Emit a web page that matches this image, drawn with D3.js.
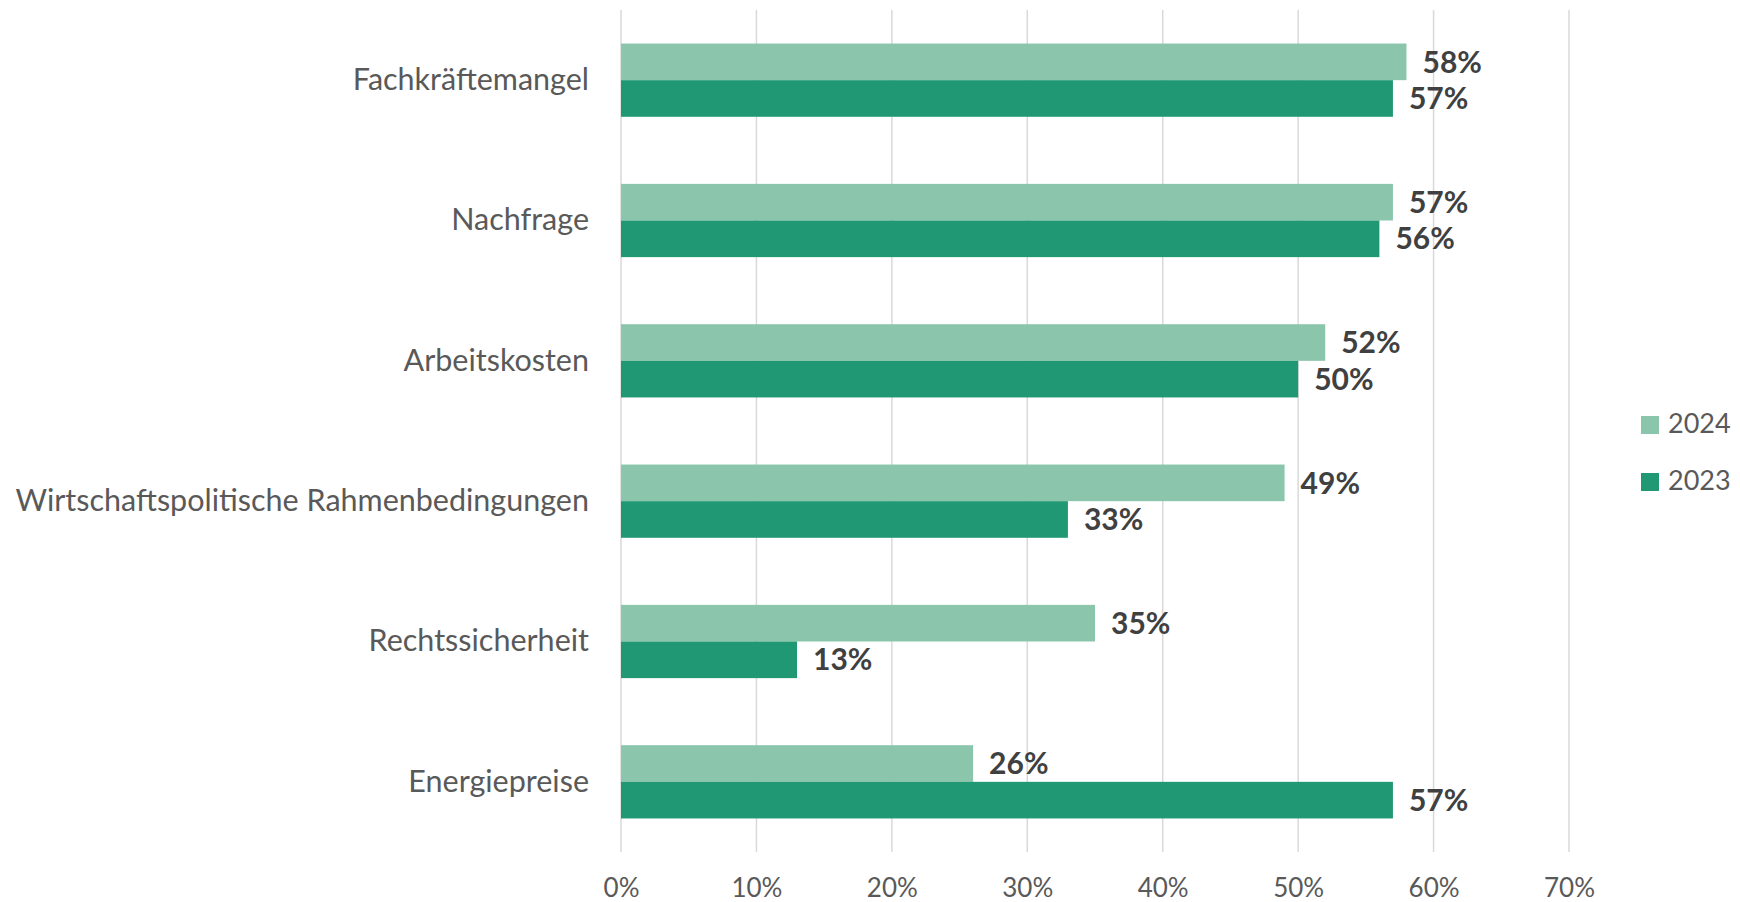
<!DOCTYPE html>
<html>
<head>
<meta charset="utf-8">
<script src="https://cdn.jsdelivr.net/npm/d3@7"></script>
<style>
  body { margin: 0; background: #fff; }
  svg text { font-family: "Source Sans Pro", Lato, sans-serif; }
</style>
</head>
<body>
<div id="chart"></div>
<script>
// Categories, top to bottom
const categories = ["Fachkräftemangel", "Nachfrage", "Arbeitskosten",
    "Wirtschaftspolitische Rahmenbedingungen", "Rechtssicherheit", "Energiepreise"];
const years = ["2024", "2023"];
const values2024 = [58, 57, 52, 49, 35, 26];
const values2023 = [57, 56, 50, 33, 13, 57];
const xTicks = [0, 10, 20, 30, 40, 50, 60, 70];

const colors = { "2024": "#8bc5ab", "2023": "#219874" };

const W = 1740, H = 902;
const margin = { top: 10, right: 171, bottom: 50, left: 621 };
const height = H - margin.top - margin.bottom;

const svg = d3.select("#chart").append("svg")
    .attr("width", W)
    .attr("height", H);

const g = svg.append("g")
    .attr("transform", "translate(" + margin.left + "," + margin.top + ")");

// Scales
const x = d3.scaleLinear().domain([0, 70]).range([0, 948]);

const y = d3.scaleBand()
    .domain(categories)
    .range([0, height])
    .paddingInner(0.478)
    .paddingOuter(0.239);

const ySub = d3.scaleBand()
    .domain(years)
    .range([0, y.bandwidth()]);

// Gridlines
g.selectAll(".grid")
    .data(xTicks)
    .enter().append("line")
    .attr("class", "grid")
    .attr("x1", d => x(d)).attr("x2", d => x(d))
    .attr("y1", 0).attr("y2", height)
    .attr("stroke", "#d9d9d9")
    .attr("stroke-width", 1.5);

// X axis labels
const xAxis = d3.axisBottom(x)
    .tickValues(xTicks)
    .tickFormat(d => d + "%")
    .tickSize(0)
    .tickPadding(27);

g.append("g")
    .attr("class", "x-axis")
    .attr("transform", "translate(0," + height + ")")
    .call(xAxis)
    .call(a => a.select(".domain").remove())
    .selectAll("text")
    .attr("fill", "#595959")
    .style("font-size", "26px");

// Y axis labels
const yAxis = d3.axisLeft(y).tickSize(0).tickPadding(32);
g.append("g")
    .attr("class", "y-axis")
    .call(yAxis)
    .call(a => a.select(".domain").remove())
    .selectAll("text")
    .attr("fill", "#595959")
    .style("font-size", "30.5px");

// Bars
const rows = categories.map((c, i) => ({
    category: c,
    items: [
        { year: "2024", value: values2024[i] },
        { year: "2023", value: values2023[i] }
    ]
}));

const groups = g.selectAll(".cat")
    .data(rows)
    .enter().append("g")
    .attr("class", "cat")
    .attr("transform", d => "translate(0," + y(d.category) + ")");

groups.selectAll("rect")
    .data(d => d.items)
    .enter().append("rect")
    .attr("x", x(0))
    .attr("y", d => ySub(d.year))
    .attr("width", d => x(d.value) - x(0))
    .attr("height", ySub.bandwidth())
    .attr("fill", d => colors[d.year]);

// Value labels
groups.selectAll(".val")
    .data(d => d.items)
    .enter().append("text")
    .attr("class", "val")
    .attr("x", d => x(d.value) + 16)
    .attr("y", d => ySub(d.year) + ySub.bandwidth() / 2 + 3)
    .attr("dominant-baseline", "middle")
    .attr("fill", "#404040")
    .style("font-size", "30px")
    .style("font-weight", "bold")
    .text(d => d.value + "%");

// Legend
const legend = svg.append("g")
    .attr("transform", "translate(1641,425)");

const li = legend.selectAll(".legend-item")
    .data(years)
    .enter().append("g")
    .attr("class", "legend-item")
    .attr("transform", (d, i) => "translate(0," + i * 57 + ")");

li.append("rect")
    .attr("x", 0).attr("y", -9)
    .attr("width", 18).attr("height", 18)
    .attr("fill", d => colors[d]);

li.append("text")
    .attr("x", 27)
    .attr("y", 1)
    .attr("dominant-baseline", "middle")
    .attr("fill", "#595959")
    .style("font-size", "27px")
    .text(d => d);
</script>
</body>
</html>
